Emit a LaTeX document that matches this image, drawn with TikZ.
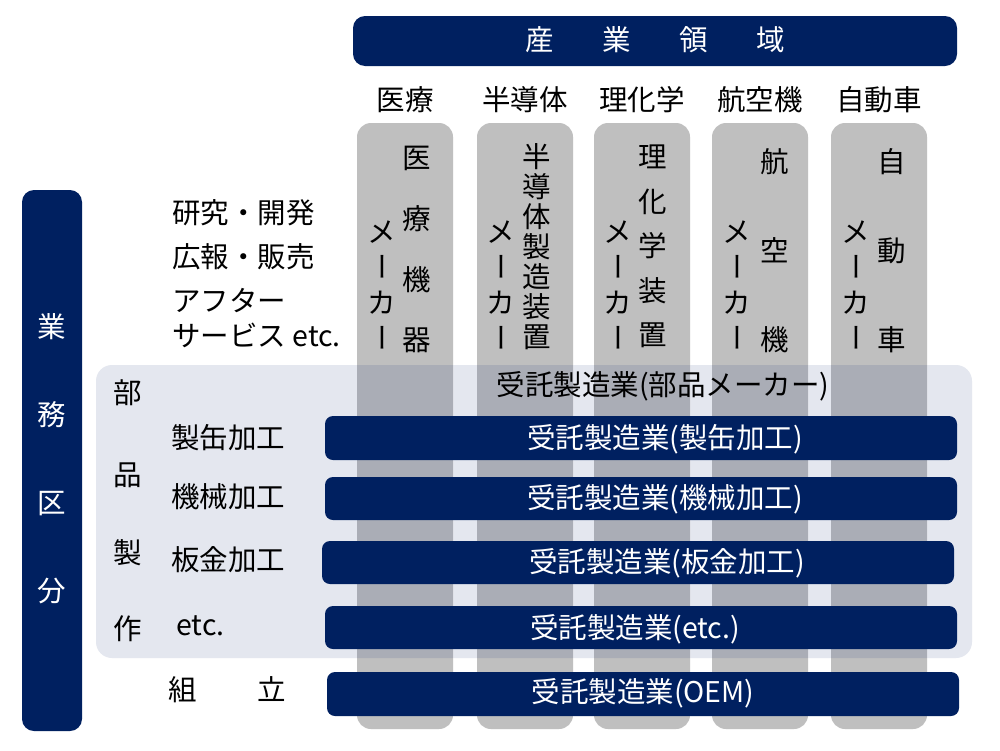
\documentclass[tikz,border=0pt]{standalone}
\usepackage{fontspec}
\setmainfont{Noto Sans CJK JP}
\definecolor{navy}{HTML}{002060}
\definecolor{colgray}{HTML}{BFBFBF}
\definecolor{panelc}{HTML}{E4E7EF}
\definecolor{overc}{HTML}{AAADB6}
\newcommand\mycolchars[5]{% prefix, x, first y, step, list
  \foreach \ch [count=\i] in {#5} {
    \node[txt] (#1\i) at (#2, {#3+(\i-1)*#4}) {\ch};
  }}
\newcommand\mymaker[2]{% prefix, x
  \node[txt] (#1a) at (#2,232) {メ};
  \node[txt,rotate=-90] (#1b) at (#2,267) {ー};
  \node[txt] (#1c) at (#2,303) {カ};
  \node[txt,rotate=-90] (#1d) at (#2,338) {ー};}
\begin{document}
\begin{tikzpicture}[x=1pt,y=-1pt,
  txt/.style={font=\fontsize{28.5}{34}\selectfont, inner sep=0pt, text height=25.1pt, text depth=3.4pt},
  wtxt/.style={txt, text=white},
  ltxt/.style={txt, anchor=west},
  navybox/.style={fill=navy, rounded corners=8pt},
  colbox/.style={fill=colgray, rounded corners=14pt}]
\useasboundingbox (0,0) rectangle (1000,750);
\fill[white] (0,0) rectangle (1000,750);

% top banner
\fill[navybox, rounded corners=12pt] (353,16) rectangle (957,66);
\node[wtxt] (s1) at (539.5,40) {産};
\node[wtxt] (s2) at (616.5,40) {業};
\node[wtxt] (s3) at (693.5,40) {領};
\node[wtxt] (s4) at (770.5,40) {域};

% column headers
\node[txt] (h1) at (405,100) {医療};
\node[txt] (h2) at (525,100) {半導体};
\node[txt] (h3) at (642,100) {理化学};
\node[txt] (h4) at (760,100) {航空機};
\node[txt] (h5) at (879,100) {自動車};

% left vertical bar
\fill[navybox, rounded corners=12pt] (22,190) rectangle (82,731);
\node[wtxt] (g1) at (52,327) {業};
\node[wtxt] (g2) at (52,415) {務};
\node[wtxt] (g3) at (52,503) {区};
\node[wtxt] (g4) at (52,591) {分};

% panel
\fill[panelc, rounded corners=16pt] (96,365) rectangle (972,658);

% columns
\foreach \xl in {357,477,594,712,831}
  \fill[colbox] (\xl,123) rectangle ++(96,606);
\begin{scope}
  \clip[rounded corners=16pt] (96,365) rectangle (972,658);
  \foreach \xl in {357,477,594,712,831}
    \fill[overc] (\xl,123) rectangle ++(96,606);
\end{scope}

% column texts
\mymaker{ma}{382}
\mymaker{mb}{501}
\mymaker{mc}{618}
\mymaker{md}{737}
\mymaker{me}{856}
\mycolchars{ra}{417}{158}{60.7}{医,療,機,器}
\mycolchars{rb}{537}{157}{30}{半,導,体,製,造,装,置}
\mycolchars{rc}{653}{157}{44.5}{理,化,学,装,置}
\mycolchars{rd}{775}{162}{89}{航,空,機}
\mycolchars{re}{892}{162}{89}{自,動,車}

% left labels
\node[ltxt] (l1) at (172,213) {研究・開発};
\node[ltxt] (l2) at (172,257) {広報・販売};
\node[ltxt] (l3) at (172,301) {アフター};
\node[ltxt] (l4) at (172,336) {サービス etc.};

% panel labels
\node[txt] (p1) at (128,393) {部};
\node[txt] (p2) at (128,475) {品};
\node[txt] (p3) at (128,553) {製};
\node[txt] (p4) at (128,629) {作};
\node[ltxt] (q1) at (171,438) {製缶加工};
\node[ltxt] (q2) at (171,497) {機械加工};
\node[ltxt] (q3) at (171,560) {板金加工};
\node[ltxt] (q4) at (176,625) {etc.};
\node[txt] (k1) at (183,690) {組};
\node[txt] (k2) at (272,690) {立};

\node[txt] (pm) at (663,385) {受託製造業(部品メーカー)};

% bars
\fill[navybox] (325,416) rectangle (957,460);
\node[wtxt] (b1) at (665,438) {受託製造業(製缶加工)};
\fill[navybox] (325,477) rectangle (957,520);
\node[wtxt] (b2) at (665,498) {受託製造業(機械加工)};
\fill[navybox] (322,541) rectangle (954,584);
\node[wtxt] (b3) at (667,562) {受託製造業(板金加工)};
\fill[navybox] (325,606) rectangle (957,649);
\node[wtxt] (b4) at (635,628) {受託製造業(etc.)};
\fill[navybox] (327,672) rectangle (959,716);
\node[wtxt] (b5) at (643,692) {受託製造業(OEM)};
\end{tikzpicture}
\end{document}
